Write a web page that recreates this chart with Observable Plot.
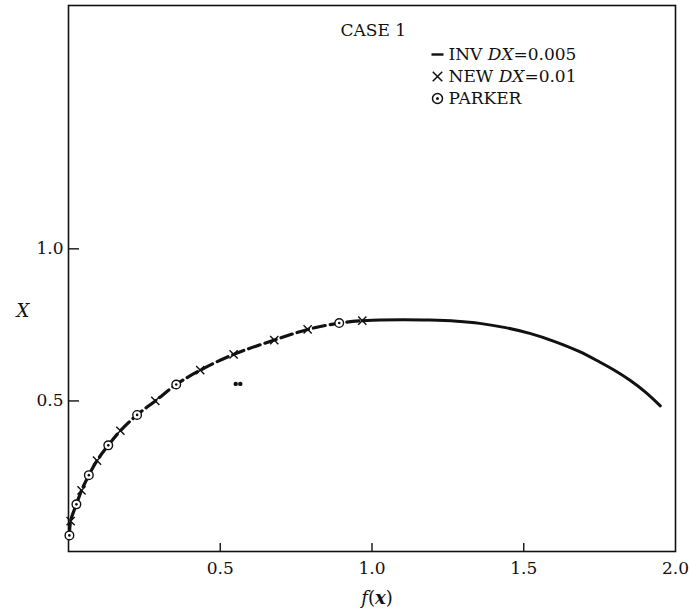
<!DOCTYPE html>
<html>
<head>
<meta charset="utf-8">
<script src="https://cdn.jsdelivr.net/npm/d3@7"></script>
<script src="https://cdn.jsdelivr.net/npm/@observablehq/plot@0.6"></script>
<style>
  html, body { margin: 0; padding: 0; background: #fff; }
  #chart svg { display: block; }
</style>
</head>
<body>
<div id="chart"></div>
<script>
// ---- Data ----
const xTicks = [0.5, 1.0, 1.5];
const xTickLabels = [0.5, 1.0, 1.5, 2.0];
const yTicks = [0.5, 1.0];

// INV DX=0.005 curve
const invX = [0.003, 0.007, 0.026, 0.043, 0.067, 0.094, 0.131, 0.171, 0.226, 0.286, 0.355, 0.434, 0.544, 0.678, 0.788, 0.892, 0.968,
              1.026, 1.100, 1.190, 1.280, 1.355, 1.440, 1.520, 1.600, 1.684, 1.750, 1.800, 1.850, 1.900, 1.950];
const invY = [0.058, 0.105, 0.160, 0.206, 0.256, 0.304, 0.354, 0.402, 0.454, 0.500, 0.554, 0.601, 0.653, 0.700, 0.735, 0.756, 0.764,
              0.766, 0.767, 0.766, 0.762, 0.755, 0.741, 0.722, 0.696, 0.662, 0.628, 0.600, 0.568, 0.530, 0.484];
const dashedUntil = 0.968;

// NEW DX=0.01 (crosses)
const newX = [0.007, 0.043, 0.094, 0.171, 0.286, 0.434, 0.544, 0.678, 0.788, 0.968];
const newY = [0.105, 0.206, 0.304, 0.402, 0.500, 0.601, 0.653, 0.700, 0.735, 0.764];

// PARKER (circled dots)
const parkerX = [0.003, 0.026, 0.067, 0.131, 0.226, 0.355, 0.892];
const parkerY = [0.058, 0.160, 0.256, 0.354, 0.454, 0.554, 0.756];

// small stray points
const strayX = [0.551, 0.566];
const strayY = [0.556, 0.556];

const caseLabel = "CASE 1";
const legendLabels = ["INV DX=0.005", "NEW DX=0.01", "PARKER"];
const xLabel = "f(x)";
const yLabel = "X";

// ---- Build tables ----
const inv = invX.map((x, i) => ({x, y: invY[i]}));
const invDashed = inv.filter(d => d.x <= dashedUntil);
const invSolid = inv.filter(d => d.x >= dashedUntil);
const newPts = newX.map((x, i) => ({x, y: newY[i]}));
const parker = parkerX.map((x, i) => ({x, y: parkerY[i]}));
const stray = strayX.map((x, i) => ({x, y: strayY[i]}));

const serif = "'DejaVu Serif', 'Liberation Serif', serif";
const dashSymbol = { draw(ctx) { ctx.moveTo(-6, 0); ctx.lineTo(6, 0); } };
const rowDy = [49, 71, 93];
const textStyle = { frameAnchor: "top-left", textAnchor: "start", lineAnchor: "middle", fontSize: 17, fill: "#111", text: d => d };

const chart = Plot.plot({
  width: 690,
  height: 614,
  marginTop: 5,
  marginBottom: 63,
  marginLeft: 68,
  marginRight: 15,
  style: { fontFamily: serif, background: "#fff", color: "#111" },
  x: { domain: [0, 2], axis: null },
  y: { domain: [0.005, 1.8], axis: null },
  marks: [
    Plot.frame({ stroke: "#111", strokeWidth: 1.6 }),
    Plot.tickX(xTicks, { x: d => d, insetTop: 538, stroke: "#111", strokeWidth: 1.4 }),
    Plot.tickY(yTicks, { y: d => d, insetRight: 596, stroke: "#111", strokeWidth: 1.4 }),
    Plot.axisX(xTickLabels, { tickSize: 0, tickPadding: 10, tickFormat: d => d.toFixed(1), fontSize: 17, fill: "#111", label: null }),
    Plot.axisY(yTicks, { tickSize: 0, tickPadding: 5, tickFormat: d => d.toFixed(1), fontSize: 17, fill: "#111", label: null }),

    Plot.line(invDashed, { x: "x", y: "y", curve: "catmull-rom", stroke: "#111", strokeWidth: 3.2, strokeDasharray: "12,5" }),
    Plot.line(invSolid, { x: "x", y: "y", curve: "catmull-rom", stroke: "#111", strokeWidth: 3 }),
    Plot.dot(newPts, { x: "x", y: "y", symbol: "times", r: 3.8, stroke: "#111", strokeWidth: 1.4 }),
    Plot.dot(parker, { x: "x", y: "y", r: 4.3, fill: "#fff", stroke: "#111", strokeWidth: 1.4 }),
    Plot.dot(parker, { x: "x", y: "y", r: 1.3, fill: "#111", stroke: null }),
    Plot.dot(stray, { x: "x", y: "y", r: 2.2, fill: "#111", stroke: null }),

    // legend
    Plot.text([caseLabel], { ...textStyle, dx: 272, dy: 25 }),
    Plot.text([legendLabels[0]], { ...textStyle, dx: 380, dy: rowDy[0] }),
    Plot.text([legendLabels[1]], { ...textStyle, dx: 380, dy: rowDy[1] }),
    Plot.text([legendLabels[2]], { ...textStyle, dx: 380, dy: rowDy[2] }),
    Plot.dot([0], { frameAnchor: "top-left", dx: 369, dy: rowDy[0], symbol: dashSymbol, r: 5, stroke: "#111", strokeWidth: 2.4 }),
    Plot.dot([0], { frameAnchor: "top-left", dx: 369, dy: rowDy[1], symbol: "times", r: 4.4, stroke: "#111", strokeWidth: 1.5 }),
    Plot.dot([0], { frameAnchor: "top-left", dx: 369, dy: rowDy[2], r: 5, fill: "#fff", stroke: "#111", strokeWidth: 1.5 }),
    Plot.dot([0], { frameAnchor: "top-left", dx: 369, dy: rowDy[2], r: 1.5, fill: "#111", stroke: null }),

    // axis labels
    Plot.text([xLabel], { frameAnchor: "bottom", dx: 5, dy: 47, text: d => d, lineAnchor: "middle", fontSize: 18, fontStyle: "italic", fill: "#111" }),
    Plot.text([yLabel], { frameAnchor: "left", dx: -52, dy: 33, text: d => d, lineAnchor: "middle", fontSize: 18, fontStyle: "italic", fill: "#111" })
  ]
});

document.getElementById("chart").appendChild(chart);

// Post-process: mixed italics inside labels
d3.select(chart).selectAll("text").each(function () {
  const t = this.textContent;
  if (t.includes("DX")) {
    const [pre, post] = t.split("DX");
    this.textContent = "";
    const sel = d3.select(this);
    sel.append("tspan").text(pre);
    sel.append("tspan").attr("font-style", "italic").text("DX");
    sel.append("tspan").text(post);
  } else if (t === xLabel) {
    this.textContent = "";
    const sel = d3.select(this);
    sel.append("tspan").attr("font-style", "italic").text("f");
    sel.append("tspan").attr("font-style", "normal").text("(");
    sel.append("tspan").attr("font-style", "italic").attr("font-weight", "bold").text("x");
    sel.append("tspan").attr("font-style", "normal").text(")");
  }
});
</script>
</body>
</html>
